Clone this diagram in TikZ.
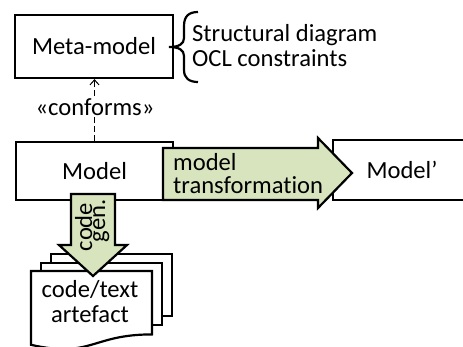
\documentclass[tikz,border=0pt]{standalone}
\usepackage{fontspec}
\setmainfont{Carlito}[Ligatures=NoCommon]
\usetikzlibrary{arrows.meta}
\definecolor{arrowgreen}{HTML}{D7E4BD}
\tikzset{
  box/.style={draw, line width=2.2pt, fill=white, inner sep=0pt},
  txt/.style={inner sep=0pt},
  blockarrow/.style={draw, line width=2.2pt, fill=arrowgreen, line join=miter},
  page/.style={draw, line width=2.2pt, fill=white},
  bracestyle/.style={draw, line width=2.2pt},
  conn/.style={line width=1pt, dash pattern=on 6pt off 3pt, -{Straight Barb[length=5pt,width=9pt,line width=1pt]}}
}
\begin{document}
\begin{tikzpicture}[x=1pt,y=-1pt,font=\fontsize{24.6}{25}\selectfont]
\useasboundingbox (0,0) rectangle (463,346);
\clip (0,0) rectangle (463,346);

% meta-model
\node[box, minimum width=158pt, minimum height=63pt] (meta) at (94,46.5) {Meta-model};
\draw[bracestyle] (198,12) .. controls (189,12) and (184,16) .. (184,26) -- (184,38)
  .. controls (184,44) and (179,47) .. (169,47)
  .. controls (179,47) and (184,50) .. (184,56) -- (184,70)
  .. controls (184,78) and (189,82) .. (198,82);
\node[txt, anchor=base west] (sd) at (192,41) {Structural diagram};
\node[txt, anchor=base west] (ocl) at (192,66) {OCL constraints};

% models
\node[box, minimum width=157pt, minimum height=58pt] (model) at (94.5,171) {Model};
\node[box, minimum width=138pt, minimum height=60pt] (model2) at (402,170) {Model’};

% conforms
\draw[conn] (model.north) -- (model.north |- meta.south);
\node[txt, fill=white, anchor=base, inner sep=1pt] (conf) at (95,115) {«conforms»};

% model transformation arrow
\draw[blockarrow] (163,148) -- (318,148) -- (318,138) -- (352,173) -- (318,208) -- (318,200) -- (163,200) -- cycle;
\node[txt, anchor=base west] (mt1) at (173,170) {model};
\node[txt, anchor=base west] (mt2) at (173,193) {transformation};

% documents
\draw[page] (51,254) rectangle (172,316);
\draw[page] (41,263) rectangle (162,325);
\draw[page] (31,271) -- (152,271) -- (152,334.4)
  .. controls (91.5,334.4) and (91.5,358.5) .. (31,344.8) -- cycle;
\node[txt, anchor=base] (ct1) at (90,297) {code/text};
\node[txt, anchor=base] (ct2) at (90,322) {artefact};

% code gen arrow
\draw[blockarrow] (71,194) -- (115,194) -- (115,245) -- (127,245) -- (93,276) -- (59,245) -- (71,245) -- cycle;
\node[txt, rotate=90, anchor=base] (cg1) at (92,227) {code};
\node[txt, rotate=90, anchor=base] (cg2) at (105,221) {gen.};
\end{tikzpicture}
\end{document}
